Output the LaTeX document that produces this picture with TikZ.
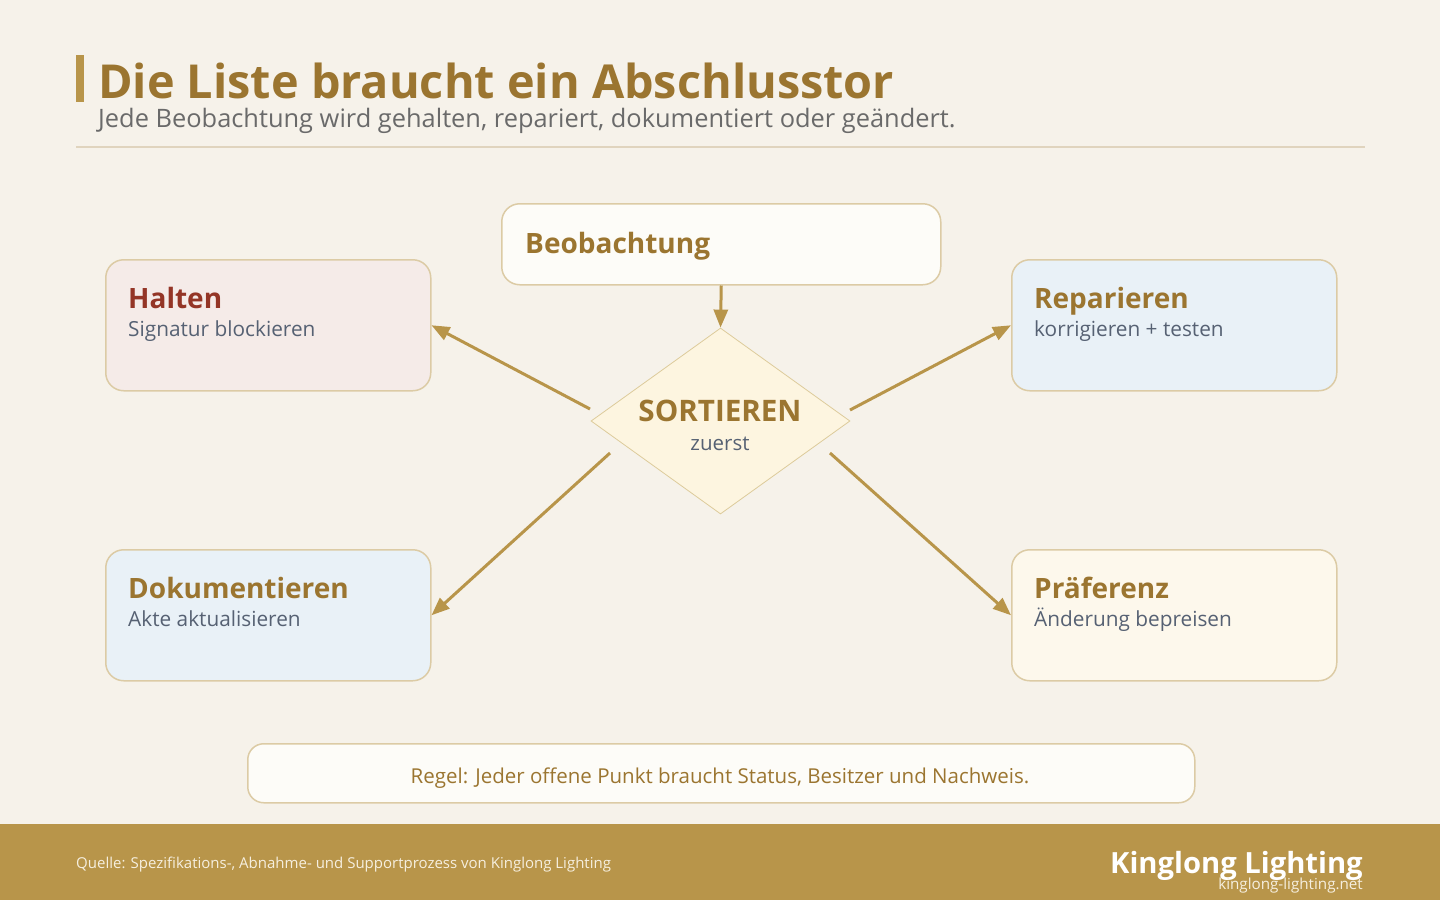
\documentclass[tikz,border=0pt]{standalone}
\usepackage{fontspec}
\setmainfont{Open Sans}
\usetikzlibrary{arrows.meta,shapes.geometric}
\definecolor{bg}{HTML}{F6F2EA}
\definecolor{gold}{HTML}{B8954A}
\definecolor{golddark}{HTML}{9B7530}
\definecolor{subgrey}{HTML}{6A6A6A}
\definecolor{slate}{HTML}{566173}
\definecolor{redt}{HTML}{943526}
\definecolor{stroke}{HTML}{DCCBA5}
\definecolor{fillred}{HTML}{F5EBE8}
\definecolor{fillblue}{HTML}{E9F1F7}
\definecolor{fillcream}{HTML}{FDF8EC}
\definecolor{fillwhite}{HTML}{FDFCF8}
\definecolor{fillsort}{HTML}{FDF5E0}
\definecolor{sortstroke}{HTML}{DDCB9B}
\definecolor{rulel}{HTML}{E0D4BE}
\definecolor{foottext}{HTML}{F6EFDF}
\tikzset{
  box/.style={draw=stroke, line width=1.5pt, rounded corners=18pt, inner sep=0pt, anchor=north west},
  head/.style={anchor=base west, inner sep=0pt, font=\fontsize{28}{30}\selectfont\bfseries, text=golddark},
  body/.style={anchor=base west, inner sep=0pt, font=\fontsize{20.8}{22}\selectfont, text=slate},
  arr/.style={draw=gold, line width=3pt, -{Triangle[length=18pt,width=14pt]}},
}
\begin{document}
\begin{tikzpicture}[x=1pt,y=-1pt]
\fill[bg] (0,0) rectangle (1440,900);
\useasboundingbox (0,0) rectangle (1440,900);
% header
\fill[gold] (76,55) rectangle (84,102);
\node[anchor=base west, inner sep=0pt, font=\fontsize{46.8}{50}\selectfont\bfseries, text=golddark] (title) at (98,98) {Die Liste braucht ein Abschlusstor};
\node[anchor=base west, inner sep=0pt, font=\fontsize{25.4}{27}\selectfont, text=subgrey] (sub) at (98,127) {Jede Beobachtung wird gehalten, repariert, dokumentiert oder geändert.};
\draw[rulel, line width=2pt] (76,147) -- (1365,147);
% boxes
\node[box, fill=fillwhite, minimum width=439pt, minimum height=81pt] (beob) at (501,203) {};
\node[head] (beobt) at (525,253) {Beobachtung};
\node[box, fill=fillred, minimum width=325pt, minimum height=131pt] (halten) at (105,259) {};
\node[head, text=redt] (haltent) at (128,308) {Halten};
\node[body] (haltenb) at (128,336) {Signatur blockieren};
\node[box, fill=fillblue, minimum width=325pt, minimum height=131pt] (rep) at (1011,259) {};
\node[head] (rept) at (1034,308) {Reparieren};
\node[body] (repb) at (1034,336) {korrigieren + testen};
\node[box, fill=fillblue, minimum width=325pt, minimum height=131pt] (dok) at (105,549) {};
\node[head] (dokt) at (128,598) {Dokumentieren};
\node[body] (dokb) at (128,626) {Akte aktualisieren};
\node[box, fill=fillcream, minimum width=325pt, minimum height=131pt] (praef) at (1011,549) {};
\node[head] (praeft) at (1034,598) {Präferenz};
\node[body] (praefb) at (1034,626) {Änderung bepreisen};
% diamond
\node[diamond, draw=sortstroke, line width=0.8pt, fill=fillsort, inner sep=0pt, minimum width=259pt, minimum height=186pt] (sort) at (720.5,421) {};
\node[anchor=base, inner sep=0pt, font=\fontsize{29.6}{31}\selectfont\bfseries, text=golddark] (sortt) at (720,421) {SORTIEREN};
\node[anchor=base, inner sep=0pt, font=\fontsize{20.5}{22}\selectfont, text=slate] (sortb) at (720,450) {zuerst};
% connectors
\coordinate (s1) at (590,409);
\coordinate (s2) at (850,410);
\coordinate (s3) at (610,453);
\coordinate (s4) at (830,453);
\draw[arr] (beob.south) -- (sort.north);
\draw[arr] (s1) -- (halten.east);
\draw[arr] (s2) -- (rep.west);
\draw[arr] (s3) -- (dok.east);
\draw[arr] (s4) -- (praef.west);
% rule
\node[box, fill=fillwhite, minimum width=947pt, minimum height=59pt, rounded corners=16pt] (rule) at (247,743) {};
\node[anchor=base, inner sep=0pt, font=\fontsize{20.5}{22}\selectfont, text=golddark] (rulet) at (720,783) {Regel: Jeder offene Punkt braucht Status, Besitzer und Nachweis.};
% footer
\fill[gold] (0,824) rectangle (1440,900);
\node[anchor=base west, inner sep=0pt, font=\fontsize{15}{17}\selectfont, text=foottext] (src) at (76,868) {Quelle: Spezifikations-, Abnahme- und Supportprozess von Kinglong Lighting};
\node[anchor=base east, inner sep=0pt, font=\fontsize{29.2}{31}\selectfont\bfseries, text=white] (brand) at (1363,873) {Kinglong Lighting};
\node[anchor=base east, inner sep=0pt, font=\fontsize{15.2}{17}\selectfont, text=foottext] (url) at (1363,889) {kinglong-lighting.net};
\end{tikzpicture}
\end{document}
